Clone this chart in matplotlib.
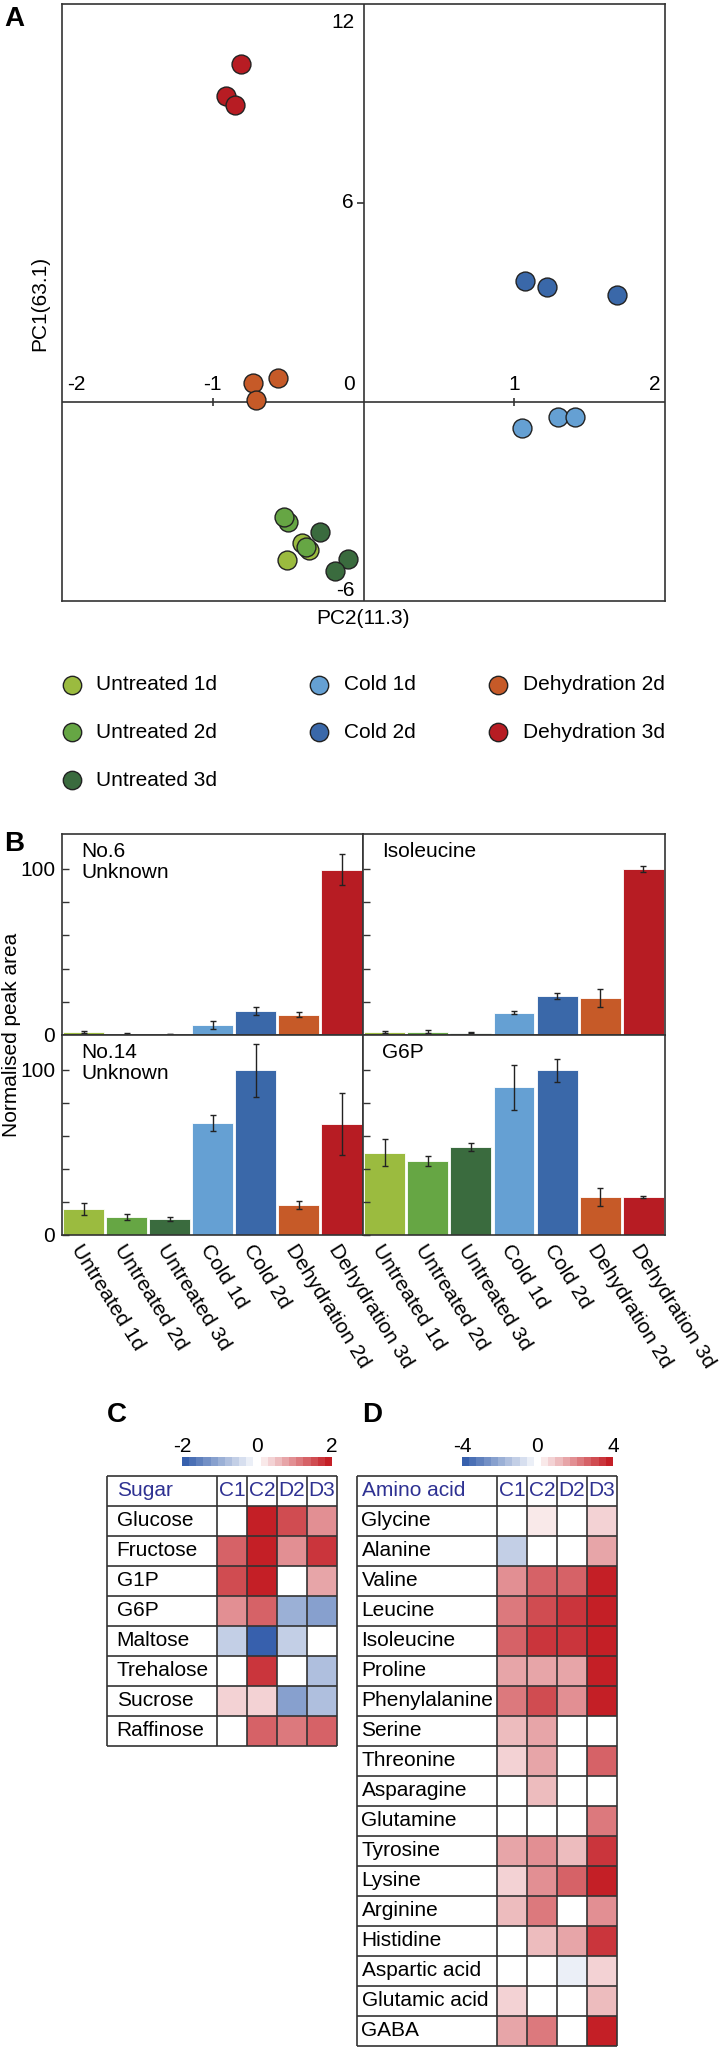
import matplotlib
matplotlib.use('Agg')
import matplotlib.pyplot as plt
import numpy as np
from matplotlib.colors import LinearSegmentedColormap, BoundaryNorm

plt.rcParams['font.family'] = ['Liberation Sans', 'DejaVu Sans']
plt.rcParams['font.size'] = 15

# ---- data ----
groups = ['Untreated 1d', 'Untreated 2d', 'Untreated 3d', 'Cold 1d', 'Cold 2d',
          'Dehydration 2d', 'Dehydration 3d']
colors = ['#9BBB3F', '#66A644', '#3A6B3E', '#65A0D3', '#3A68A9', '#C65A28', '#B71C23']

# PCA scores (PC2, PC1) per group
pc2_u1 = [-0.41, -0.36, -0.51]
pc1_u1 = [-4.26, -4.46, -4.76]
pc2_u2 = [-0.50, -0.53, -0.38]
pc1_u2 = [-3.61, -3.47, -4.36]
pc2_u3 = [-0.29, -0.10, -0.19]
pc1_u3 = [-3.91, -4.74, -5.11]
pc2_c1 = [1.05, 1.29, 1.40]
pc1_c1 = [-0.77, -0.44, -0.44]
pc2_c2 = [1.07, 1.22, 1.68]
pc1_c2 = [3.66, 3.46, 3.24]
pc2_d2 = [-0.57, -0.73, -0.71]
pc1_d2 = [0.71, 0.57, 0.05]
pc2_d3 = [-0.81, -0.91, -0.85]
pc1_d3 = [10.18, 9.23, 8.94]

# normalised peak areas (mean, error)
no6 = [1.8, 0.8, 0.6, 6.0, 14.6, 12.2, 99.4]
no6_err = [0.4, 0.6, 0.2, 2.4, 2.3, 1.5, 9.3]
iso = [2.0, 2.0, 1.5, 13.4, 23.5, 22.3, 100.0]
iso_err = [0.5, 1.0, 0.4, 0.8, 2.0, 5.2, 1.7]
no14 = [15.7, 10.9, 9.7, 67.8, 99.6, 18.1, 67.2]
no14_err = [3.4, 2.0, 1.0, 5.0, 16.0, 2.5, 19.0]
g6p = [49.9, 44.7, 53.3, 89.3, 99.6, 23.1, 23.1]
g6p_err = [8.3, 2.8, 2.5, 13.7, 7.0, 5.4, 0.5]

heat_cols = ['C1', 'C2', 'D2', 'D3']
sugar_rows = ['Glucose', 'Fructose', 'G1P', 'G6P', 'Maltose', 'Trehalose', 'Sucrose', 'Raffinose']
sugar_vals = [[0, 2.0, 1.5, 1.0],
              [1.4, 2.0, 1.0, 1.7],
              [1.5, 2.0, 0, 0.8],
              [0.9, 1.3, -0.9, -1.1],
              [-0.6, -1.9, -0.5, 0],
              [0, 1.7, 0, -0.8],
              [0.3, 0.4, -1.1, -0.8],
              [0, 1.35, 1.1, 1.35]]
amino_rows = ['Glycine', 'Alanine', 'Valine', 'Leucine', 'Isoleucine', 'Proline',
              'Phenylalanine', 'Serine', 'Threonine', 'Asparagine', 'Glutamine',
              'Tyrosine', 'Lysine', 'Arginine', 'Histidine', 'Aspartic acid',
              'Glutamic acid', 'GABA']
amino_vals = [[0, 0.5, 0, 0.7],
              [-1.0, 0, 0, 1.6],
              [1.8, 2.6, 2.7, 3.9],
              [2.2, 3.2, 3.3, 3.9],
              [2.7, 3.5, 3.3, 3.9],
              [1.5, 1.6, 1.5, 3.7],
              [2.3, 3.0, 1.9, 3.9],
              [1.0, 1.5, 0, 0],
              [0.9, 1.5, 0, 2.5],
              [0, 1.2, 0, 0],
              [0, 0, 0, 2.2],
              [1.5, 2.0, 1.1, 3.3],
              [0.9, 2.0, 2.8, 4.0],
              [1.1, 2.3, 0, 1.8],
              [0, 1.1, 1.6, 3.5],
              [0, 0, -0.25, 0.6],
              [0.7, 0, 0, 1.0],
              [1.5, 2.3, 0, 4.0]]

W, H = 721, 2050
fig = plt.figure(figsize=(7.21, 20.5), dpi=100)
line_c = '#333333'
navy = '#2E3192'


def box(x0, y0, x1, y1):
    return [x0 / W, 1 - y1 / H, (x1 - x0) / W, (y1 - y0) / H]


def px2pt(v):
    return v * 0.72


# ---- A: PCA ----
ax = fig.add_axes(box(62, 4, 665, 601))
ax.set_xlim(-2, 2)
ax.set_ylim(-6, 12)
ax.axhline(0, color=line_c, lw=1.2, zorder=1)
ax.axvline(0, color=line_c, lw=1.2, zorder=1)
ax.set_xticks([])
ax.set_yticks([])
for s in ax.spines.values():
    s.set_color(line_c)
    s.set_linewidth(1.2)
ax.vlines([-1, 1], -0.13, 0.13, color=line_c, lw=1.2)
ax.hlines([6], -0.045, 0, color=line_c, lw=1.2)

pts = [(pc2_u1, pc1_u1), (pc2_u2, pc1_u2), (pc2_u3, pc1_u3), (pc2_c1, pc1_c1),
       (pc2_c2, pc1_c2), (pc2_d2, pc1_d2), (pc2_d3, pc1_d3)]
for (xs, ys), c in zip(pts, colors):
    ax.scatter(xs, ys, s=185, color=c, edgecolor='#222222', linewidth=1, zorder=3)


def lab(s, x, y, dx, dy, ha):
    ax.annotate(s, (x, y), xytext=(px2pt(dx), px2pt(-dy)), textcoords='offset points',
                ha=ha, va='center', fontsize=15)


lab('-2', -2, 0, 5, -17, 'left')
lab('-1', -1, 0, 0, -17, 'center')
lab('0', 0, 0, -9, -17, 'right')
lab('1', 1, 0, 0, -17, 'center')
lab('2', 2, 0, -5, -17, 'right')
lab('12', 0, 12, -9, 18, 'right')
lab('6', 0, 6, -10, 0, 'right')
lab('-6', 0, -6, -9, -11, 'right')

fig.text(363 / W, 1 - 618 / H, 'PC2(11.3)', ha='center', va='center', fontsize=15)
fig.text(40 / W, 1 - 303 / H, 'PC1(63.1)', ha='center', va='center', rotation=90, fontsize=15)
fig.text(4 / W, 1 - 6 / H, 'A', ha='left', va='top', fontsize=20, fontweight='bold')

# legend
axl = fig.add_axes(box(0, 650, 721, 815))
axl.set_xlim(0, 721)
axl.set_ylim(815, 650)
axl.axis('off')
col_x = [71.5, 319, 498]
row_y = [685, 732, 780]
slots = [(0, 0), (0, 1), (0, 2), (1, 0), (1, 1), (2, 0), (2, 1)]
for g, c, (ci, ri) in zip(groups, colors, slots):
    axl.scatter([col_x[ci]], [row_y[ri]], s=175, color=c, edgecolor='#222222', linewidth=1)
    axl.text(col_x[ci] + 25, row_y[ri], g, ha='left', va='center', fontsize=15)

# ---- B: bar panels ----
fig.text(4 / W, 1 - 831 / H, 'B', ha='left', va='top', fontsize=20, fontweight='bold')
panels = [((62, 834, 363, 1035), no6, no6_err, 'No.6\nUnknown', True, False),
          ((363, 834, 665, 1035), iso, iso_err, 'Isoleucine', False, False),
          ((62, 1035, 363, 1235), no14, no14_err, 'No.14\nUnknown', True, True),
          ((363, 1035, 665, 1235), g6p, g6p_err, 'G6P', False, True)]
xpos = np.arange(len(groups))
for b, vals, errs, title, left, bottom in panels:
    axb = fig.add_axes(box(*b))
    axb.bar(xpos, vals, width=0.95, color=colors, edgecolor='white', linewidth=0.6)
    axb.errorbar(xpos, vals, yerr=errs, fmt='none', ecolor='#222222', elinewidth=1,
                 capsize=2.5, capthick=1)
    axb.set_xlim(-0.5, 6.5)
    axb.set_ylim(0, 121)
    for s in axb.spines.values():
        s.set_color(line_c)
        s.set_linewidth(1.2)
    axb.set_yticks([0, 20, 40, 60, 80, 100])
    axb.tick_params(axis='y', direction='in', length=5, width=1, color=line_c, pad=5,
                    labelsize=15)
    if left:
        axb.set_yticklabels(['0', '', '', '', '', '100'])
    else:
        axb.set_yticklabels([])
    axb.set_xticks(xpos)
    if bottom:
        axb.set_xticklabels(groups, rotation=-58, rotation_mode='anchor', ha='left',
                            va='top', fontsize=15)
        axb.tick_params(axis='x', length=0, pad=4)
    else:
        axb.tick_params(axis='x', length=0, labelbottom=False)
    axb.text(19 / 301, 1 - 8 / 201, title, transform=axb.transAxes, ha='left', va='top',
             fontsize=15, linespacing=1.15)

fig.text(12 / W, 1 - 1035 / H, 'Normalised peak area', ha='center', va='center',
         rotation=90, fontsize=15)

# ---- C / D: heatmaps ----
cmap = LinearSegmentedColormap.from_list('bwr2', ['#3760AD', '#FFFFFF', '#C41F26'], N=21)


def colorbar(b, vmax):
    axc = fig.add_axes(box(*b))
    edges = np.linspace(-vmax, vmax, 22)
    centers = (edges[:-1] + edges[1:]) / 2
    norm = BoundaryNorm(edges, cmap.N)
    axc.pcolormesh(edges, [0, 1], [centers], cmap=cmap, norm=norm)
    axc.set_xlim(-vmax, vmax)
    axc.set_yticks([])
    axc.set_xticks([-vmax, 0, vmax])
    axc.set_xticklabels(['-%d' % vmax, '0', '%d' % vmax])
    axc.xaxis.tick_top()
    axc.tick_params(axis='x', length=0, pad=1, labelsize=15)
    for s in axc.spines.values():
        s.set_visible(False)


def heatmap(b, head, rows, vals, lab_w, vmax, pad):
    axh = fig.add_axes(box(*b))
    n = len(rows)
    edges = np.linspace(-vmax, vmax, 22)
    norm = BoundaryNorm(edges, cmap.N)
    axh.pcolormesh(np.arange(5), np.arange(1, n + 2), np.array(vals), cmap=cmap, norm=norm)
    axh.set_xlim(-lab_w, 4)
    axh.set_ylim(n + 1, 0)
    axh.axis('off')
    axh.hlines(np.arange(n + 2), -lab_w, 4, color=line_c, lw=1.2, clip_on=False)
    axh.vlines([-lab_w, 0, 1, 2, 3, 4], 0, n + 1, color=line_c, lw=1.2, clip_on=False)
    axh.text(-lab_w + pad, 0.5, head, ha='left', va='center', color=navy, fontsize=15)
    for j, c in enumerate(heat_cols):
        axh.text(j + 0.5, 0.5, c, ha='center', va='center', color=navy, fontsize=15)
    for i, r in enumerate(rows):
        axh.text(-lab_w + pad, i + 1.5, r, ha='left', va='center', fontsize=15)


fig.text(107 / W, 1 - 1402 / H, 'C', ha='left', va='top', fontsize=20, fontweight='bold')
fig.text(362 / W, 1 - 1402 / H, 'D', ha='left', va='top', fontsize=20, fontweight='bold')
colorbar((182, 1457, 332, 1466), 2)
colorbar((462, 1457, 613, 1466), 4)
heatmap((107, 1476, 337, 1746), 'Sugar', sugar_rows, sugar_vals, 110 / 30, 2, 0.32)
heatmap((357, 1476, 617, 2046), 'Amino acid', amino_rows, amino_vals, 140 / 30, 4, 0.15)

fig.savefig('out.png', dpi=100, facecolor='white')
